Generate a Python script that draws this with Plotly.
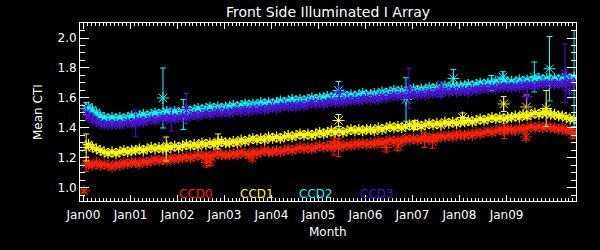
import pandas as pd
import plotly.graph_objects as go

# ---------------- data ----------------
months = pd.date_range("2000-01-10", periods=126, freq="MS") + pd.Timedelta(days=9)

ccd0 = [
    1.16, 1.15, 1.17, 1.15, 1.16, 1.15, 1.14, 1.16, 1.15, 1.17, 1.16, 1.17,
    1.17, 1.16, 1.18, 1.17, 1.18, 1.19, 1.18, 1.19, 1.18, 1.20, 1.19, 1.20,
    1.20, 1.21, 1.20, 1.21, 1.22, 1.21, 1.22, 1.21, 1.22, 1.23, 1.22, 1.22,
    1.22, 1.23, 1.22, 1.24, 1.23, 1.22, 1.24, 1.23, 1.24, 1.25, 1.24, 1.24,
    1.25, 1.24, 1.25, 1.26, 1.25, 1.26, 1.27, 1.26, 1.27, 1.26, 1.27, 1.28,
    1.27, 1.28, 1.27, 1.28, 1.29, 1.28, 1.29, 1.28, 1.30, 1.29, 1.30, 1.29,
    1.30, 1.29, 1.31, 1.30, 1.31, 1.32, 1.31, 1.32, 1.31, 1.33, 1.32, 1.33,
    1.32, 1.33, 1.34, 1.33, 1.34, 1.33, 1.35, 1.34, 1.35, 1.34, 1.36, 1.35,
    1.35, 1.36, 1.35, 1.37, 1.36, 1.37, 1.38, 1.37, 1.38, 1.39, 1.38, 1.39,
    1.39, 1.38, 1.40, 1.39, 1.40, 1.41, 1.40, 1.41, 1.40, 1.41, 1.40, 1.40,
    1.39, 1.40, 1.38, 1.39, 1.37, 1.37,
]
ccd1 = [
    1.29, 1.27, 1.26, 1.25, 1.24, 1.23, 1.24, 1.23, 1.24, 1.25, 1.24, 1.25,
    1.25, 1.26, 1.25, 1.26, 1.27, 1.26, 1.27, 1.26, 1.28, 1.27, 1.28, 1.27,
    1.28, 1.29, 1.28, 1.29, 1.28, 1.30, 1.29, 1.30, 1.29, 1.30, 1.31, 1.30,
    1.30, 1.31, 1.30, 1.32, 1.31, 1.32, 1.33, 1.32, 1.33, 1.32, 1.34, 1.33,
    1.34, 1.33, 1.34, 1.35, 1.34, 1.35, 1.36, 1.35, 1.36, 1.35, 1.36, 1.37,
    1.36, 1.37, 1.38, 1.37, 1.38, 1.37, 1.38, 1.39, 1.38, 1.39, 1.38, 1.39,
    1.39, 1.38, 1.40, 1.39, 1.40, 1.41, 1.40, 1.41, 1.40, 1.41, 1.42, 1.41,
    1.42, 1.41, 1.42, 1.43, 1.42, 1.43, 1.42, 1.44, 1.43, 1.44, 1.43, 1.44,
    1.44, 1.45, 1.44, 1.45, 1.46, 1.45, 1.46, 1.47, 1.46, 1.47, 1.46, 1.47,
    1.47, 1.48, 1.47, 1.49, 1.48, 1.49, 1.50, 1.49, 1.50, 1.50, 1.49, 1.49,
    1.48, 1.48, 1.47, 1.46, 1.46, 1.45,
]
ccd2 = [
    1.54, 1.52, 1.50, 1.48, 1.47, 1.46, 1.47, 1.46, 1.47, 1.46, 1.47, 1.48,
    1.47, 1.48, 1.49, 1.48, 1.49, 1.50, 1.49, 1.50, 1.51, 1.50, 1.51, 1.50,
    1.51, 1.52, 1.51, 1.52, 1.53, 1.52, 1.53, 1.54, 1.53, 1.54, 1.53, 1.54,
    1.54, 1.55, 1.54, 1.55, 1.56, 1.55, 1.56, 1.55, 1.57, 1.56, 1.57, 1.56,
    1.57, 1.58, 1.57, 1.58, 1.59, 1.58, 1.59, 1.58, 1.59, 1.60, 1.59, 1.60,
    1.60, 1.61, 1.60, 1.61, 1.60, 1.62, 1.61, 1.62, 1.61, 1.62, 1.63, 1.62,
    1.62, 1.63, 1.62, 1.64, 1.63, 1.64, 1.65, 1.64, 1.65, 1.64, 1.65, 1.66,
    1.65, 1.66, 1.65, 1.67, 1.66, 1.67, 1.66, 1.68, 1.67, 1.68, 1.67, 1.68,
    1.68, 1.69, 1.68, 1.69, 1.70, 1.69, 1.70, 1.69, 1.71, 1.70, 1.71, 1.70,
    1.71, 1.70, 1.72, 1.71, 1.72, 1.71, 1.72, 1.73, 1.72, 1.73, 1.72, 1.73,
    1.72, 1.73, 1.74, 1.73, 1.74, 1.73,
]
ccd3 = [
    1.48, 1.46, 1.44, 1.43, 1.42, 1.43, 1.42, 1.43, 1.42, 1.43, 1.44, 1.43,
    1.44, 1.45, 1.44, 1.45, 1.46, 1.45, 1.46, 1.47, 1.46, 1.47, 1.46, 1.47,
    1.48, 1.47, 1.48, 1.49, 1.48, 1.49, 1.50, 1.49, 1.50, 1.51, 1.50, 1.51,
    1.50, 1.51, 1.52, 1.51, 1.52, 1.51, 1.53, 1.52, 1.53, 1.52, 1.53, 1.54,
    1.53, 1.54, 1.55, 1.54, 1.55, 1.54, 1.56, 1.55, 1.56, 1.57, 1.56, 1.57,
    1.56, 1.57, 1.58, 1.57, 1.58, 1.57, 1.59, 1.58, 1.59, 1.58, 1.59, 1.60,
    1.59, 1.60, 1.59, 1.61, 1.60, 1.61, 1.62, 1.61, 1.62, 1.61, 1.62, 1.63,
    1.62, 1.63, 1.62, 1.64, 1.63, 1.64, 1.63, 1.65, 1.64, 1.65, 1.64, 1.65,
    1.65, 1.64, 1.66, 1.65, 1.66, 1.67, 1.66, 1.67, 1.66, 1.68, 1.67, 1.68,
    1.67, 1.68, 1.67, 1.69, 1.68, 1.69, 1.68, 1.69, 1.70, 1.69, 1.70, 1.69,
    1.70, 1.69, 1.70, 1.71, 1.70, 1.70,
]

# outlying points with their error bars
ccd0_out_dates = ["2000-01-05", "2000-01-22", "2002-08-15", "2002-09-12", "2003-08-05",
                  "2005-05-01", "2005-06-05", "2006-06-10", "2006-09-10", "2007-04-05",
                  "2007-06-05", "2008-12-15", "2009-06-01", "2010-06-01"]
ccd0_out_vals = [0.98, 1.16, 1.17, 1.18, 1.20, 1.31, 1.27, 1.27, 1.28, 1.32, 1.31, 1.38, 1.34, 1.36]
ccd0_out_errs = [0.01, 0.05, 0.03, 0.03, 0.02, 0.09, 0.06, 0.03, 0.03, 0.05, 0.045, 0.05, 0.02, 0.03]

ccd1_out_dates = ["2000-01-22", "2001-10-05", "2002-11-12", "2005-06-05", "2007-01-20",
                  "2008-01-25", "2008-12-10", "2009-06-05", "2009-11-05"]
ccd1_out_vals = [1.27, 1.26, 1.31, 1.45, 1.42, 1.47, 1.56, 1.54, 1.53]
ccd1_out_errs = [0.09, 0.08, 0.05, 0.04, 0.03, 0.03, 0.05, 0.08, 0.12]

ccd2_out_dates = ["2000-01-22", "2001-09-10", "2002-02-15", "2005-06-05", "2006-11-12",
                  "2007-11-15", "2008-09-05", "2008-12-05", "2009-08-05", "2009-12-01",
                  "2010-06-10"]
ccd2_out_vals = [1.53, 1.60, 1.49, 1.65, 1.59, 1.73, 1.70, 1.74, 1.74, 1.795, 1.73]
ccd2_out_errs = [0.04, 0.20, 0.10, 0.06, 0.145, 0.06, 0.05, 0.035, 0.10, 0.215, 0.32]

ccd3_out_dates = ["2000-01-22", "2001-02-10", "2001-11-15", "2002-03-10", "2005-06-10",
                  "2006-12-05", "2007-08-10", "2009-06-10", "2010-04-01", "2010-05-05"]
ccd3_out_vals = [1.50, 1.43, 1.46, 1.53, 1.64, 1.665, 1.66, 1.61, 1.765, 1.65]
ccd3_out_errs = [0.05, 0.09, 0.08, 0.10, 0.04, 0.135, 0.05, 0.085, 0.195, 0.05]

names = ["CCD0", "CCD1", "CCD2", "CCD3"]
colors = ["#ff2200", "#ffff00", "#00ffff", "#5010d8"]

tick_dates = ["2000-01-01", "2001-01-01", "2002-01-01", "2003-01-01", "2004-01-01",
              "2005-01-01", "2006-01-01", "2007-01-01", "2008-01-01", "2009-01-01"]
tick_labels = ["Jan00", "Jan01", "Jan02", "Jan03", "Jan04",
               "Jan05", "Jan06", "Jan07", "Jan08", "Jan09"]
y_tick_vals = [1.0, 1.2, 1.4, 1.6, 1.8, 2.0]
y_tick_text = ["1.0", "1.2", "1.4", "1.6", "1.8", "2.0"]

# ---------------- figure ----------------
FONT = "DejaVu Sans"
fig = go.Figure()

series = [ccd0, ccd1, ccd2, ccd3]
outs = [
    (ccd0_out_dates, ccd0_out_vals, ccd0_out_errs),
    (ccd1_out_dates, ccd1_out_vals, ccd1_out_errs),
    (ccd2_out_dates, ccd2_out_vals, ccd2_out_errs),
    (ccd3_out_dates, ccd3_out_vals, ccd3_out_errs),
]

for vals, (od, ov, oe), name, col in zip(series, outs, names, colors):
    fig.add_trace(go.Scatter(
        x=months, y=vals, mode="markers", name=name, showlegend=False,
        marker=dict(symbol="asterisk-open", size=9, color=col, line=dict(width=1.2, color=col)),
    ))
    fig.add_trace(go.Scatter(
        x=pd.to_datetime(od), y=ov, mode="markers", name=name, showlegend=False,
        marker=dict(symbol="asterisk-open", size=10, color=col, line=dict(width=1, color=col)),
        error_y=dict(type="data", array=oe, visible=True, color=col, thickness=1, width=3),
    ))

legend_x = [196, 257, 316, 377]
for name, col, px in zip(names, colors, legend_x):
    fig.add_annotation(
        x=(px - 80) / 496, y=(201 - 194) / 178, xref="paper", yref="paper",
        text=name, showarrow=False, font=dict(family=FONT, size=12, color=col),
        xanchor="center", yanchor="middle",
    )

fig.add_annotation(
    x=(38 - 80) / 496, y=0.5, xref="paper", yref="paper", text="Mean CTI",
    textangle=-90, showarrow=False, font=dict(family=FONT, size=12, color="white"),
    xanchor="center", yanchor="middle",
)
fig.add_annotation(
    x=0.5, y=(201 - 232) / 178, xref="paper", yref="paper", text="Month",
    showarrow=False, font=dict(family=FONT, size=12, color="white"),
    xanchor="center", yanchor="middle",
)

axis_common = dict(
    showline=True, linecolor="white", linewidth=1, mirror="ticks",
    ticks="inside", tickcolor="white", tickwidth=1, showgrid=False, zeroline=False,
    tickfont=dict(family=FONT, size=12, color="white"),
)

fig.update_layout(
    width=600, height=250,
    margin=dict(l=80, r=24, t=23, b=49),
    paper_bgcolor="black", plot_bgcolor="black",
    title=dict(text="Front Side Illuminated I Array", x=0.5, xref="paper", xanchor="center",
               y=1 - 12 / 250, yanchor="middle",
               font=dict(family=FONT, size=14, color="white")),
    xaxis=dict(
        type="date", range=["1999-12-05", "2010-06-25"],
        tickmode="array", tickvals=tick_dates, ticktext=tick_labels, ticklen=6,
        ticklabelstandoff=3,
        minor=dict(ticks="inside", dtick="M1", tick0="2000-01-01", ticklen=3,
                   tickcolor="white", showgrid=False),
        **axis_common,
    ),
    yaxis=dict(
        range=[0.913, 2.1], tickmode="array", tickvals=y_tick_vals, ticktext=y_tick_text,
        ticklen=9,
        minor=dict(ticks="inside", dtick=0.05, tick0=0, ticklen=5,
                   tickcolor="white", showgrid=False),
        **axis_common,
    ),
)

fig.write_html("out.html")
